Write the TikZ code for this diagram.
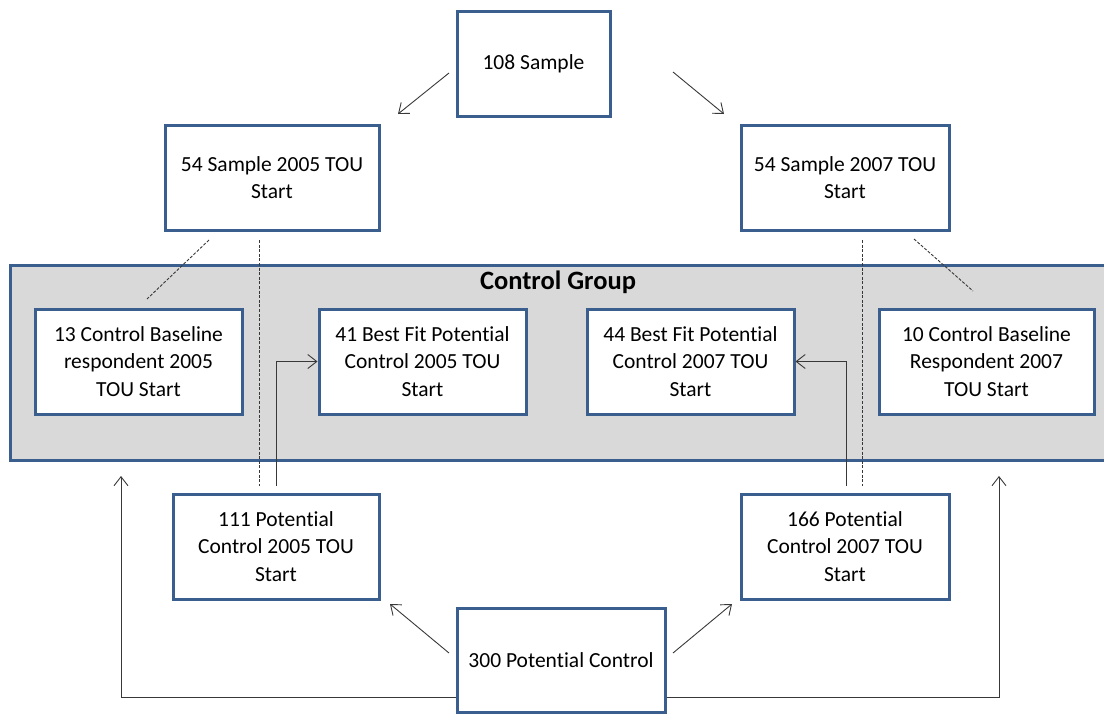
\documentclass[tikz,border=0pt]{standalone}
\usepackage{fontspec}
\setmainfont{Carlito}[Ligatures=NoCommon]
\usetikzlibrary{arrows.meta,calc}
\definecolor{boxblue}{HTML}{3A5F8E}
\definecolor{bandgray}{HTML}{D9D9D9}
\definecolor{linegray}{HTML}{383838}
\begin{document}
\begin{tikzpicture}[x=1pt,y=-1pt,
  stepbox/.style={draw=boxblue,line width=3pt,fill=white,align=center,
    minimum height=105pt,inner sep=2pt,
    font=\fontsize{21.5}{27.5}\selectfont},
  arr/.style={draw=linegray,line width=0.9pt,-{Straight Barb[length=9pt,width=14pt,line width=0.9pt]}},
  link/.style={draw=linegray,line width=0.9pt,dash pattern=on 3pt off 1.6pt}]
\useasboundingbox (0,0) rectangle (1104,715);

% control group band
\path[draw=boxblue,line width=3pt,fill=bandgray] (10,265) rectangle (1112,460);
\node[font=\fontsize{26.5}{30}\bfseries] (cgtitle) at (558,282) {Control Group};

% boxes
\node[stepbox,minimum width=153pt] (s108) at (533.5,63.5) {108 Sample};
\node[stepbox,minimum width=214pt] (s05) at (272,177.5) {54 Sample 2005 TOU\\Start};
\node[stepbox,minimum width=208pt] (s07) at (845,177.5) {54 Sample 2007 TOU\\Start};
\node[stepbox,minimum width=207pt] (c13) at (138.5,361.5) {13 Control Baseline\\respondent 2005\\TOU Start};
\node[stepbox,minimum width=207pt] (b41) at (422.5,361.5) {41 Best Fit Potential\\Control 2005 TOU\\Start};
\node[stepbox,minimum width=207pt] (b44) at (690.5,361.5) {44 Best Fit Potential\\Control 2007 TOU\\Start};
\node[stepbox,minimum width=215pt] (c10) at (986.5,361.5) {10 Control Baseline\\Respondent 2007\\TOU Start};
\node[stepbox,minimum width=206pt] (p111) at (276,546.5) {111 Potential\\Control 2005 TOU\\Start};
\node[stepbox,minimum width=208pt] (p166) at (845,546.5) {166 Potential\\Control 2007 TOU\\Start};
\node[stepbox,minimum width=208pt,minimum height=104pt] (p300) at (561,660) {300 Potential Control};

% free ends of the connectors
\coordinate (a1s) at (449,73);   \coordinate (a1e) at (398,114);
\coordinate (a2s) at (673,72);   \coordinate (a2e) at (724,114);
\coordinate (d1s) at (209,240);  \coordinate (d1e) at (147,299);
\coordinate (d2s) at (914,239);  \coordinate (d2e) at (973,291);
\coordinate (v1s) at (259,240);  \coordinate (v1e) at (259,486);
\coordinate (v2s) at (862,240);  \coordinate (v2e) at (862,486);
\coordinate (u1) at (276,486);   \coordinate (u2) at (846,486);
\coordinate (a3s) at (449,653);  \coordinate (a3e) at (390,604);
\coordinate (a4s) at (673,653);  \coordinate (a4e) at (732,604);
\coordinate (lft) at (121,476);  \coordinate (rgt) at (999,476);

% arrows from the sample
\draw[arr] (a1s) -- (a1e);
\draw[arr] (a2s) -- (a2e);

% dashed links
\draw[link] (d1s) -- (d1e);
\draw[link] (d2s) -- (d2e);
\draw[link] (v1s) -- (v1e);
\draw[link] (v2s) -- (v2e);

% potential controls to best fit boxes
\draw[arr] (u1) |- (b41.west);
\draw[arr] (u2) |- (b44.east);

% arrows from the potential control pool
\draw[arr] (a3s) -- (a3e);
\draw[arr] (a4s) -- (a4e);
\draw[arr] ($(p300.west)+(0,37)$) -| (lft);
\draw[arr] ($(p300.east)+(0,37)$) -| (rgt);
\end{tikzpicture}
\end{document}
